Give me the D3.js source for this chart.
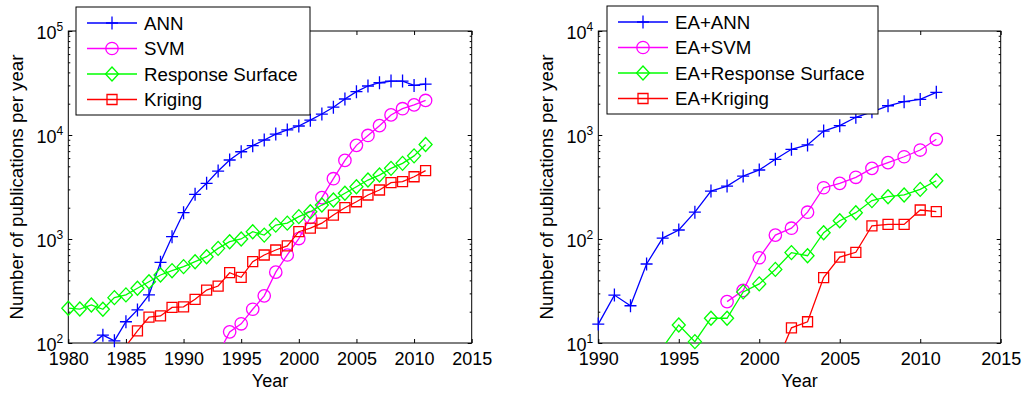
<!DOCTYPE html>
<html>
<head>
<meta charset="utf-8">
<script src="https://cdn.jsdelivr.net/npm/d3@7"></script>
<style>
  body { margin: 0; background: #fff; }
  svg { display: block; font-family: "Liberation Sans", Arial, sans-serif; }
</style>
</head>
<body>
<svg id="chart" width="1024" height="394"></svg>
<script>
// Left panel data: publications per year (log scale)
var leftYears = [1980, 1981, 1982, 1983, 1984, 1985, 1986, 1987, 1988, 1989,
                 1990, 1991, 1992, 1993, 1994, 1995, 1996, 1997, 1998, 1999,
                 2000, 2001, 2002, 2003, 2004, 2005, 2006, 2007, 2008, 2009,
                 2010, 2011];
var annValues = [null, null, 96, 119, 105, 160, 208, 290, 597, 1052,
                 1790, 2690, 3430, 4500, 5750, 6900, 7900, 8950, 10200, 11200,
                 12200, 13900, 15900, 18500, 22200, 26100, 29600, 31800, 33000, 33000,
                 30000, 30800];
var svmValues = [null, null, null, null, null, null, null, null, null, null,
                 null, null, null, 78, 128, 153, 211, 284, 480, 702,
                 1010, 1610, 2500, 3800, 5700, 7950, 9900, 12300, 15600, 17900,
                 19500, 21500];
var rsValues = [216, 212, 232, 211, 273, 290, 336, 388, 451, 496,
                542, 605, 676, 813, 942, 1000, 1175, 1090, 1360, 1420,
                1640, 1830, 2120, 2370, 2750, 3180, 3690, 4120, 4780, 5340,
                6300, 8100];
var krigValues = [null, null, null, null, null, 93.5, 131, 177, 182, 220,
                  223, 263, 323, 353, 474, 428, 605, 702, 784, 857,
                  1175, 1270, 1420, 1700, 2000, 2280, 2650, 2960, 3480, 3560,
                  3970, 4540];

// Right panel data: EA combined methods
var rightYears = [1990, 1991, 1992, 1993, 1994, 1995, 1996, 1997, 1998, 1999,
                  2000, 2001, 2002, 2003, 2004, 2005, 2006, 2007, 2008, 2009,
                  2010, 2011];
var eaAnnValues = [15.2, 28.9, 22.8, 57.5, 102, 122, 181, 289, 323, 403,
                   461, 584, 729, 802, 1090, 1230, 1480, 1670, 1910, 2090,
                   2200, 2570];
var eaSvmValues = [null, null, null, null, null, null, null, null, 25, 32,
                   66, 109, 127, 181, 311, 343, 392, 478, 542, 618,
                   717, 909];
var eaRsValues = [null, null, null, null, 9.05, 14.9, 10.3, 17.3, 17.3, 31,
                  37, 51, 74, 69, 115, 150, 179, 234, 255, 265,
                  300, 363];
var eaKrigValues = [null, null, null, null, null, null, null, null, null, null,
                    null, 6, 14, 16, 42.5, 67, 74.5, 134, 138, 138,
                    190, 183];

var leftLabels = ["ANN", "SVM", "Response Surface", "Kriging"];
var rightLabels = ["EA+ANN", "EA+SVM", "EA+Response Surface", "EA+Kriging"];
var seriesColors = ["#0000ff", "#ff00ff", "#00ff00", "#ff0000"];
var seriesMarkers = ["plus", "circle", "diamond", "square"];

var leftXTicks = [1980, 1985, 1990, 1995, 2000, 2005, 2010, 2015];
var rightXTicks = [1990, 1995, 2000, 2005, 2010, 2015];
var leftYTicks = [1e2, 1e3, 1e4, 1e5];
var rightYTicks = [1e1, 1e2, 1e3, 1e4];

var svg = d3.select("#chart");
var fontFamily = '"Liberation Sans", Arial, sans-serif';

function markerPath(type) {
    if (type == "plus") return "M-6,0H6M0,-6.5V6.5";
    if (type == "circle") return d3.arc()({innerRadius: 0, outerRadius: 6.2, startAngle: 0, endAngle: 2 * Math.PI});
    if (type == "diamond") return "M0,-7L6.5,0L0,7L-6.5,0Z";
    return "M-5,-5H5V5H-5Z";
}

function drawPanel(p) {
    var g = svg.append("g").attr("transform", "translate(" + p.left + "," + p.top + ")");
    var w = p.width, h = p.height;

    var x = d3.scaleLinear().domain(p.xDomain).range([0, w]);
    var y = d3.scaleLog().domain(p.yDomain).range([h, 0]);

    // minor ticks for log axis (2..9 in each decade)
    var minors = [];
    for (var e = Math.log10(p.yDomain[0]); e < Math.log10(p.yDomain[1]); e++) {
        for (var k = 2; k <= 9; k++) minors.push(k * Math.pow(10, e));
    }

    function styleAxis(sel) {
        sel.select(".domain").remove();
        sel.selectAll(".tick line").attr("stroke", "#000").attr("stroke-width", 1);
        sel.attr("font-family", fontFamily);
    }

    // bottom axis
    var xb = g.append("g").attr("transform", "translate(0," + h + ")")
        .call(d3.axisBottom(x).tickValues(p.xTicks).tickFormat(d3.format("d"))
            .tickSize(-4).tickSizeOuter(0).tickPadding(9));
    styleAxis(xb);
    xb.selectAll("text").attr("font-size", 18).attr("fill", "#000");

    // top axis (ticks only)
    var xt = g.append("g")
        .call(d3.axisTop(x).tickValues(p.xTicks).tickFormat("").tickSize(-4).tickSizeOuter(0));
    styleAxis(xt);

    // left axis with superscript labels
    var yl = g.append("g")
        .call(d3.axisLeft(y).tickValues(p.yTicks).tickFormat("").tickSize(-4).tickSizeOuter(0).tickPadding(5));
    styleAxis(yl);
    yl.selectAll(".tick text")
        .attr("font-size", 18).attr("fill", "#000").attr("dy", 7)
        .each(function (d) {
            var t = d3.select(this);
            t.text(null);
            t.append("tspan").text("10");
            t.append("tspan").attr("font-size", 12).attr("dy", -8).text(Math.round(Math.log10(d)));
        });
    var ylm = g.append("g")
        .call(d3.axisLeft(y).tickValues(minors).tickFormat("").tickSize(-2).tickSizeOuter(0));
    styleAxis(ylm);

    // right axis ticks
    var yr = g.append("g").attr("transform", "translate(" + w + ",0)")
        .call(d3.axisRight(y).tickValues(p.yTicks).tickFormat("").tickSize(-4).tickSizeOuter(0));
    styleAxis(yr);
    var yrm = g.append("g").attr("transform", "translate(" + w + ",0)")
        .call(d3.axisRight(y).tickValues(minors).tickFormat("").tickSize(-2).tickSizeOuter(0));
    styleAxis(yrm);

    // axes box
    g.append("rect").attr("width", w).attr("height", h)
        .attr("fill", "none").attr("stroke", "#000").attr("stroke-width", 1);

    // clip for lines
    g.append("clipPath").attr("id", p.id + "-clip")
        .append("rect").attr("width", w).attr("height", h);

    var line = d3.line()
        .defined(d => d.v != null)
        .x(d => x(d.year))
        .y(d => y(d.v));

    p.series.forEach(function (vals, i) {
        var pts = p.years.map((yr, j) => ({year: yr, v: vals[j]}));
        g.append("path")
            .datum(pts)
            .attr("clip-path", "url(#" + p.id + "-clip)")
            .attr("fill", "none")
            .attr("stroke", seriesColors[i])
            .attr("stroke-width", 1.3)
            .attr("d", line);
        var visible = pts.filter(d => d.v != null && d.v >= p.yDomain[0] && d.v <= p.yDomain[1]);
        g.selectAll(".m" + i)
            .data(visible)
            .enter()
            .append("path")
            .attr("transform", d => "translate(" + x(d.year) + "," + y(d.v) + ")")
            .attr("d", markerPath(seriesMarkers[i]))
            .attr("fill", "none")
            .attr("stroke", seriesColors[i])
            .attr("stroke-width", 1.3);
    });

    // axis titles
    g.append("text")
        .attr("x", w / 2).attr("y", 387 - p.top)
        .attr("text-anchor", "middle")
        .attr("font-size", 18)
        .text("Year");
    g.append("text")
        .attr("transform", "translate(-45," + (h / 2) + ") rotate(-90)")
        .attr("text-anchor", "middle")
        .attr("font-size", 18.7)
        .text("Number of publications per year");

    // legend
    var lg = svg.append("g").attr("transform", "translate(" + p.legend.x + "," + p.legend.y + ")");
    lg.append("rect")
        .attr("width", p.legend.w).attr("height", p.legend.h)
        .attr("fill", "#fff").attr("stroke", "#000").attr("stroke-width", 1);
    p.labels.forEach(function (lab, i) {
        var cy = 16 + i * 25.5;
        lg.append("line")
            .attr("x1", 11).attr("x2", 61).attr("y1", cy).attr("y2", cy)
            .attr("stroke", seriesColors[i]).attr("stroke-width", 1.3);
        lg.append("path")
            .attr("transform", "translate(36," + cy + ")")
            .attr("d", markerPath(seriesMarkers[i]))
            .attr("fill", "none").attr("stroke", seriesColors[i]).attr("stroke-width", 1.3);
        lg.append("text")
            .attr("x", 68).attr("y", cy + 6.5)
            .attr("font-size", 18.7)
            .text(lab);
    });
}

drawPanel({
    id: "left", left: 68.3, top: 31, width: 403.4, height: 312,
    xDomain: [1980, 2015], yDomain: [1e2, 1e5],
    xTicks: leftXTicks, yTicks: leftYTicks,
    years: leftYears,
    series: [annValues, svmValues, rsValues, krigValues],
    labels: leftLabels,
    legend: {x: 76, y: 7, w: 234, h: 108}
});

drawPanel({
    id: "right", left: 598.3, top: 31, width: 402.4, height: 312,
    xDomain: [1990, 2015], yDomain: [1e1, 1e4],
    xTicks: rightXTicks, yTicks: rightYTicks,
    years: rightYears,
    series: [eaAnnValues, eaSvmValues, eaRsValues, eaKrigValues],
    labels: rightLabels,
    legend: {x: 607, y: 6, w: 271, h: 108}
});
</script>
</body>
</html>
